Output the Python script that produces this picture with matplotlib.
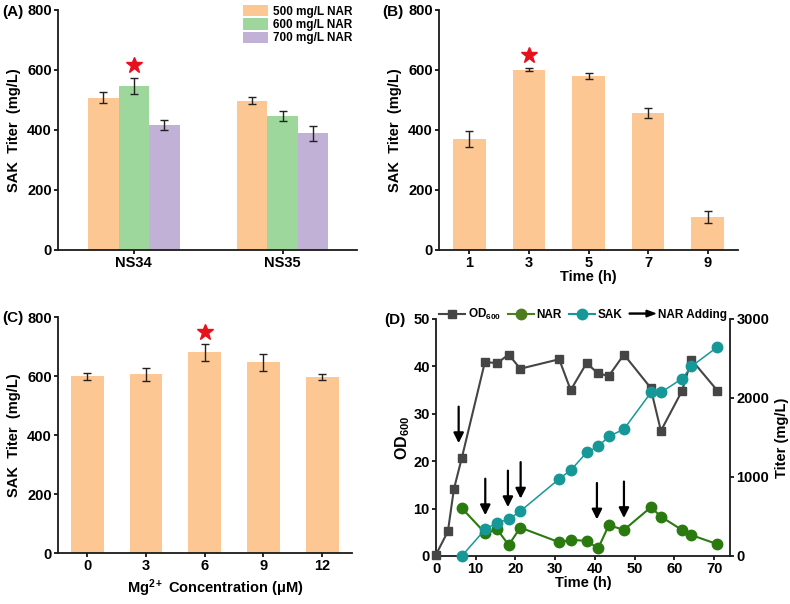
import matplotlib
matplotlib.use('Agg')
import matplotlib.pyplot as plt
import matplotlib.patches as mpatches
from matplotlib.lines import Line2D
from matplotlib.legend_handler import HandlerPatch
import numpy as np

# --- data ---
a_groups = ['NS34', 'NS35']
a_series = ['500 mg/L NAR', '600 mg/L NAR', '700 mg/L NAR']
a_vals = [[507, 498], [546, 446], [416, 389]]
a_errs = [[18, 13], [26, 17], [17, 25]]

b_time = ['1', '3', '5', '7', '9']
b_titer = [369, 600, 579, 456, 110]
b_err = [27, 5, 10, 17, 20]

c_mg = ['0', '3', '6', '9', '12']
c_titer = [599, 606, 681, 646, 596]
c_err = [11, 22, 29, 28, 11]

od_time = [0, 3, 4.5, 6.5, 12.3, 15.4, 18.3, 21.2, 31, 33.9, 37.9, 40.8, 43.5, 47.3,
           54, 56.6, 61.9, 64.3, 70.8]
od600 = [0.3, 5.2, 14.1, 20.7, 40.9, 40.7, 42.5, 39.5, 41.5, 35.0, 40.7, 38.5, 38.0, 42.5,
         35.5, 26.4, 34.8, 41.4, 34.9]
ns_time = [6.5, 12.4, 15.4, 18.3, 21.2, 31, 34, 37.9, 40.8, 43.5, 47.3, 54.1, 56.6, 61.9,
           64.3, 70.8]
nar = [10.1, 4.8, 5.6, 2.3, 6.0, 2.9, 3.4, 3.2, 1.6, 6.5, 5.5, 10.3, 8.3, 5.5, 4.4, 2.5]
sak = [0, 338, 422, 465, 566, 976, 1090, 1310, 1386, 1513, 1606, 2070, 2070, 2244, 2400, 2645]
arrow_time = [5.7, 12.4, 18.1, 21.3, 40.5, 47.3]
arrow_top = [31.5, 16.3, 18.0, 19.8, 15.4, 15.7]

# --- style ---
plt.rcParams['font.family'] = ['Liberation Sans', 'DejaVu Sans']
plt.rcParams['font.weight'] = 'bold'
plt.rcParams['axes.labelweight'] = 'bold'
plt.rcParams['font.size'] = 10.5
plt.rcParams['mathtext.fontset'] = 'custom'
plt.rcParams['mathtext.rm'] = 'Liberation Sans:bold'
plt.rcParams['mathtext.bf'] = 'Liberation Sans:bold'
plt.rcParams['mathtext.it'] = 'Liberation Sans:bold'

c_orange = '#fdc794'
c_green = '#9ed79b'
c_purple = '#c1b1d7'
c_star = '#e8101c'
bar_colors = [c_orange, c_green, c_purple]
err_kw = dict(ecolor='#222222', elinewidth=1.0, capsize=3, capthick=1.0)

fig = plt.figure(figsize=(7.9, 6.04), dpi=100)


def style_axes(ax, right=False):
    for s in ['top', 'right']:
        ax.spines[s].set_visible(False)
    if right:
        ax.spines['right'].set_visible(True)
    for s in ax.spines.values():
        s.set_linewidth(1.3)
        s.set_color('#1a1a1a')
    ax.tick_params(direction='out', length=3, width=1.2, labelsize=10.5, pad=1.5)


# --- (A) ---
axA = fig.add_axes([0.0734, 0.5861, 0.3785, 0.3974])
xa = np.arange(len(a_groups))
w = 0.205
for i in range(3):
    axA.bar(xa + (i - 1) * w, a_vals[i], w, yerr=a_errs[i], color=bar_colors[i],
            label=a_series[i], error_kw=err_kw)
best = a_vals[1][0] + a_errs[1][0] + 45
axA.plot([xa[0]], [best], marker='*', color=c_star, markersize=12, linestyle='none')
axA.set_xlim(-0.51, 1.5)
axA.set_ylim(0, 800)
axA.set_yticks([0, 200, 400, 600, 800])
axA.set_xticks(xa)
axA.set_xticklabels(a_groups)
axA.set_ylabel('SAK  Titer  (mg/L)')
style_axes(axA)
axA.legend(loc='upper right', bbox_to_anchor=(1.02, 1.065), frameon=False, fontsize=8.5,
           handlelength=2.1, handleheight=1.1, labelspacing=0.05, handletextpad=0.45)

# --- (B) ---
axB = fig.add_axes([0.5557, 0.5861, 0.3785, 0.3974])
xb = np.arange(len(b_time))
axB.bar(xb, b_titer, 0.55, yerr=b_err, color=c_orange, error_kw=err_kw)
axB.plot([xb[1]], [b_titer[1] + b_err[1] + 45], marker='*', color=c_star, markersize=12,
         linestyle='none')
axB.set_xlim(-0.51, 4.51)
axB.set_ylim(0, 800)
axB.set_yticks([0, 200, 400, 600, 800])
axB.set_xticks(xb)
axB.set_xticklabels(b_time)
axB.set_xlabel('Time (h)', labelpad=0)
axB.set_ylabel('SAK  Titer  (mg/L)')
style_axes(axB)

# --- (C) ---
axC = fig.add_axes([0.0734, 0.0844, 0.3722, 0.3907])
xc = np.arange(len(c_mg))
axC.bar(xc, c_titer, 0.56, yerr=c_err, color=c_orange, error_kw=err_kw)
axC.plot([xc[2]], [c_titer[2] + c_err[2] + 40], marker='*', color=c_star, markersize=12,
         linestyle='none')
axC.set_xlim(-0.5, 4.51)
axC.set_ylim(0, 800)
axC.set_yticks([0, 200, 400, 600, 800])
axC.set_xticks(xc)
axC.set_xticklabels(c_mg)
axC.set_xlabel(r'Mg$^{\mathbf{2+}}$ Concentration (μM)', labelpad=2)
axC.xaxis.set_label_coords(0.535, -0.105)
axC.set_ylabel('SAK  Titer  (mg/L)')
style_axes(axC)

# --- (D) ---
axD = fig.add_axes([0.5519, 0.0795, 0.3722, 0.3924])
axD2 = axD.twinx()
c_od = '#454545'
c_nar = '#2b7a10'
c_sak = '#169898'
axD.plot(od_time, od600, color=c_od, marker='s', markersize=5.5, linewidth=1.5,
         clip_on=False, zorder=3)
axD.plot(ns_time, nar, color=c_nar, marker='o', markersize=7.5, linewidth=1.5,
         clip_on=False, zorder=3)
axD2.plot(ns_time, sak, color=c_sak, marker='o', markersize=7.5, linewidth=1.1,
          clip_on=False, zorder=3)
for t, top in zip(arrow_time, arrow_top):
    axD.annotate('', xy=(t, top - 7.7), xytext=(t, top),
                 arrowprops=dict(arrowstyle='-|>', color='black', lw=1.6,
                                 mutation_scale=15, shrinkA=0, shrinkB=0))
axD.set_xlim(0, 74)
axD.set_ylim(0, 50)
axD2.set_ylim(0, 3000)
axD.set_xticks(range(0, 71, 10))
axD.set_yticks(range(0, 51, 10))
axD2.set_yticks([0, 1000, 2000, 3000])
axD.set_xlabel('Time (h)', labelpad=0)
axD.set_ylabel(r'OD$_{\mathbf{600}}$', labelpad=1, fontsize=11.5)
axD2.set_ylabel('Titer (mg/L)')
style_axes(axD)
style_axes(axD2, right=True)
axD2.spines['left'].set_visible(False)
axD2.spines['bottom'].set_visible(False)


def make_arrow(legend, orig_handle, xdescent, ydescent, width, height, fontsize):
    return mpatches.FancyArrow(0, 0.5 * height, width, 0, length_includes_head=True,
                               head_width=0.8 * height, head_length=0.35 * width,
                               width=0.12 * height, color='black')


h_od = Line2D([], [], color=c_od, marker='s', markersize=5.5, linewidth=1.5)
h_nar = Line2D([], [], color='#4f7d1e', marker='o', markersize=7.5, linewidth=1.5)
h_sak = Line2D([], [], color=c_sak, marker='o', markersize=7.5, linewidth=1.5)
h_arr = mpatches.FancyArrow(0, 0, 1, 0, color='black')
axD.legend([h_od, h_nar, h_sak, h_arr], [r'OD$_{\mathbf{600}}$', 'NAR', 'SAK', 'NAR Adding'],
           handler_map={mpatches.FancyArrow: HandlerPatch(patch_func=make_arrow)},
           loc='center', bbox_to_anchor=(0.5, 1.02), ncol=4, frameon=False, fontsize=8.5,
           handlelength=2.2, handletextpad=0.2, columnspacing=0.6, borderaxespad=0)

# panel labels
fig.text(0.003, 0.980, '(A)', fontsize=11, va='center')
fig.text(0.484, 0.980, '(B)', fontsize=11, va='center')
fig.text(0.003, 0.474, '(C)', fontsize=11, va='center')
fig.text(0.487, 0.470, '(D)', fontsize=11, va='center')

fig.savefig('out.png', dpi=100)
